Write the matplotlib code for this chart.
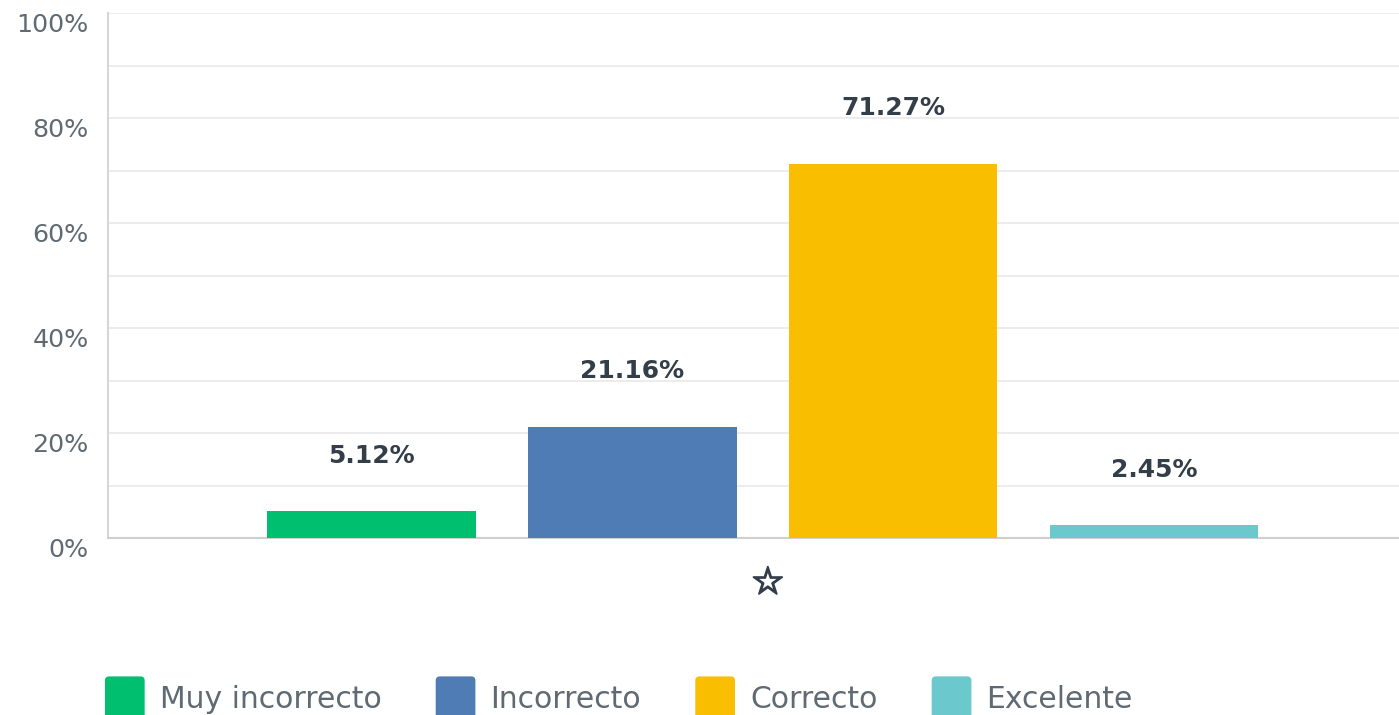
import matplotlib
matplotlib.use("Agg")
import matplotlib.pyplot as plt
import matplotlib.patheffects as pe
from matplotlib.patches import Patch, FancyBboxPatch
from matplotlib.legend_handler import HandlerPatch

# data
categories = ["Muy incorrecto", "Incorrecto", "Correcto", "Excelente"]
values = [5.12, 21.16, 71.27, 2.45]
colors = ["#00bf6f", "#507cb6", "#f9be00", "#6bc8cd"]
yticks = [0, 20, 40, 60, 80, 100]
xlabel_star = "\u2606"

text_dark = "#333e48"
text_gray = "#5f6a72"


class RoundHandler(HandlerPatch):
    # rounded squares in the legend
    def create_artists(self, legend, orig_handle, xdescent, ydescent,
                       width, height, fontsize, trans):
        p = FancyBboxPatch((-xdescent, -ydescent - 4), width, height + 8,
                           boxstyle="round,pad=0,rounding_size=3",
                           fc=orig_handle.get_facecolor(), ec="none",
                           transform=trans)
        return [p]


fig = plt.figure(figsize=(13.99, 7.15), dpi=100)
ax = fig.add_axes([108 / 1399, 1 - 538 / 715, 1 - 108 / 1399, (538 - 13) / 715])

x = list(range(len(values)))
bars = ax.bar(x, values, width=0.8, color=colors, zorder=3)

for xi, v in zip(x, values):
    ax.annotate(f"{v:.2f}%", (xi, v), xytext=(0, 40), textcoords="offset points",
                ha="center", va="center", fontsize=18, fontweight="bold",
                color=text_dark)

ax.set_xlim(-1.01, 3.94)
ax.set_ylim(0, 100)

# grid every 10%, labels every 20%
ax.set_yticks(range(0, 101, 10), minor=True)
ax.set_yticks(yticks)
ax.set_yticklabels([f"{t}%" for t in yticks], fontsize=18.3, color=text_gray)
for lab in ax.get_yticklabels():
    lab.set_va("top")
ax.grid(axis="y", which="both", color="#ebebeb", linewidth=1.3, zorder=0)
ax.tick_params(axis="y", which="both", length=0, pad=14)

# star sits a touch right of the group centre in the original
ax.set_xticks([1.52])
ax.set_xticklabels([xlabel_star], fontsize=27, color=text_dark)
for lab in ax.get_xticklabels():
    lab.set_path_effects([pe.withStroke(linewidth=1.3, foreground=text_dark)])
ax.tick_params(axis="x", length=0, pad=20)

for s in ["top", "right"]:
    ax.spines[s].set_visible(False)
ax.spines["left"].set_color("#d6d6d6")
ax.spines["left"].set_linewidth(1.5)
ax.spines["bottom"].set_color("#cfcfcf")
ax.spines["bottom"].set_linewidth(1.5)

handles = [Patch(facecolor=c) for c in colors]
leg = fig.legend(handles, categories, loc="upper left",
                 bbox_to_anchor=(93 / 1399, 1 - 670 / 715), ncol=4,
                 frameon=False, fontsize=21.5, handlelength=1.33, handleheight=1.33,
                 handletextpad=0.5, columnspacing=1.82, borderaxespad=0,
                 handler_map={Patch: RoundHandler()})
for t in leg.get_texts():
    t.set_color(text_gray)

fig.savefig("out.png", dpi=100)
